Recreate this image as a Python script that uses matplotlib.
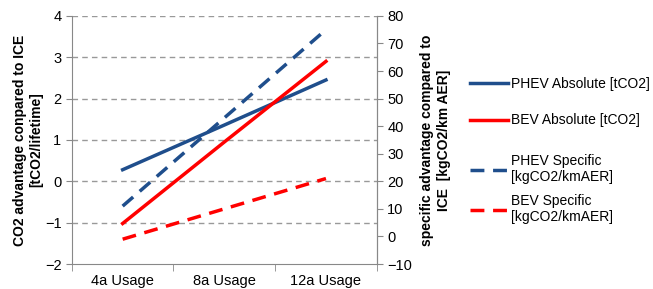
import matplotlib
matplotlib.use("Agg")
import matplotlib.pyplot as plt
from matplotlib.lines import Line2D

plt.rcParams['font.family'] = ['Liberation Sans', 'DejaVu Sans']

categories = ["4a Usage", "8a Usage", "12a Usage"]
phev_abs = [0.28, 1.36, 2.45]
bev_abs = [-1.02, 0.95, 2.9]
phev_spec = [11.0, 43.0, 75.0]
bev_spec = [-1.0, 10.0, 21.0]

blue = "#1f4e8c"
red = "#ff0000"
gray = "#888888"

fig = plt.figure(figsize=(6.53, 2.89), dpi=100)
ax = fig.add_axes([0.110, 0.0865, 0.467, 0.8585])
ax2 = ax.twinx()

x = list(range(len(categories)))
ax.plot(x, phev_abs, color=blue, lw=2.5, zorder=3)
ax.plot(x, bev_abs, color=red, lw=2.5, zorder=3)
ax2.plot(x, phev_spec, color=blue, lw=2.5, dashes=(4, 2.5))
ax2.plot(x, bev_spec, color=red, lw=2.5, dashes=(4, 2.5))

ax.set_xlim(-0.5, 2.5)
ax.set_ylim(-2, 4)
ax2.set_ylim(-10, 80)
ax.set_yticks(range(-2, 5))
ax2.set_yticks(range(-10, 81, 10))
ax.set_xticks(x)
ax.set_xticklabels(categories)
ax.set_xticks([-0.5, 0.5, 1.5, 2.5], minor=True)
ax.tick_params(axis='x', which='major', length=0, pad=7, labelsize=10.5)
ax.tick_params(axis='x', which='minor', length=5, color=gray, direction='out')
ax.tick_params(axis='y', length=4, color=gray, labelsize=10.5, direction='out')
ax2.tick_params(axis='y', length=4, color=gray, labelsize=10.5, direction='out')

for yv in range(-1, 5):
    ax.axhline(yv, color="#999999", lw=1, dashes=(4, 3), zorder=1)

for a in (ax, ax2):
    a.spines['top'].set_visible(False)
    for s in ['left', 'right', 'bottom']:
        a.spines[s].set_color(gray)
ax2.spines['left'].set_visible(False)
ax2.spines['bottom'].set_visible(False)

ax.set_ylabel("CO2 advantage conpared to ICE\n[tCO2/lifetime]", fontsize=10, fontweight='bold', labelpad=1)
ax2.set_ylabel("specific advantage compared to\nICE  [kgCO2/km AER]", fontsize=10, fontweight='bold', labelpad=6)

handles1 = [Line2D([], [], color=blue, lw=2.5), Line2D([], [], color=red, lw=2.5)]
labels1 = ["PHEV Absolute [tCO2]", "BEV Absolute [tCO2]"]
handles2 = [Line2D([], [], color=blue, lw=2.5, dashes=(4, 2.5)),
            Line2D([], [], color=red, lw=2.5, dashes=(4, 2.5))]
labels2 = ["PHEV Specific\n[kgCO2/kmAER]", "BEV Specific\n[kgCO2/kmAER]"]
common = dict(loc='center left', frameon=False, fontsize=10, handlelength=2.75,
              handletextpad=0.2, borderpad=0, borderaxespad=0)
leg1 = fig.legend(handles1, labels1, bbox_to_anchor=(0.72, 0.647), labelspacing=1.65, **common)
leg2 = fig.legend(handles2, labels2, bbox_to_anchor=(0.72, 0.345), labelspacing=0.7, **common)

fig.savefig("out.png", dpi=100)
